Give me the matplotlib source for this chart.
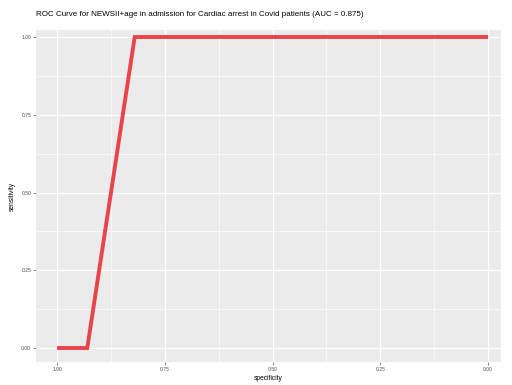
import numpy as np
import matplotlib.pyplot as plt

# ROC curve points (specificity, sensitivity)
specificity = [1.00, 0.93, 0.82, 0.00]
sensitivity = [0.00, 0.00, 1.00, 1.00]
auc = 0.875

ticks = [1.00, 0.75, 0.50, 0.25, 0.00]
tick_labels = ['1.00', '0.75', '0.50', '0.25', '0.00']

plt.rcParams['font.family'] = ['Liberation Sans', 'DejaVu Sans']

fig = plt.figure(figsize=(5.12, 3.85), dpi=100)
ax = fig.add_axes([36/512, 1-362/385, 465/512, 332/385])

# ggplot-like grey panel
ax.set_facecolor('#EBEBEB')
for s in ax.spines.values():
    s.set_visible(False)
ax.set_axisbelow(True)
ax.set_xticks(ticks)
ax.set_xticklabels(tick_labels)
ax.set_yticks(ticks)
ax.set_yticklabels(tick_labels)
ax.set_xticks([0.875, 0.625, 0.375, 0.125], minor=True)
ax.set_yticks([0.875, 0.625, 0.375, 0.125], minor=True)
ax.grid(True, which='major', color='white', lw=0.9)
ax.grid(True, which='minor', color='white', lw=0.45)
ax.tick_params(which='major', length=2, width=0.5, color='#555555',
               labelsize=3.6, labelcolor='#4D4D4D', pad=1.5)
ax.tick_params(which='minor', length=0)

ax.plot(specificity, sensitivity, color='#E8454A', lw=2.8,
        solid_joinstyle='miter', solid_capstyle='butt')

ax.set_xlim(1.049, -0.030)
ax.set_ylim(-0.045, 1.0225)

ax.set_xlabel('specificity', fontsize=4.8, labelpad=2)
ax.set_ylabel('sensitivity', fontsize=4.8, labelpad=4)
ax.set_title('ROC Curve for NEWSII+age in admission for Cardiac arrest in Covid patients (AUC = %.3f)' % auc,
             fontsize=5.8, loc='left', pad=10)

fig.savefig('out.png', dpi=100)
